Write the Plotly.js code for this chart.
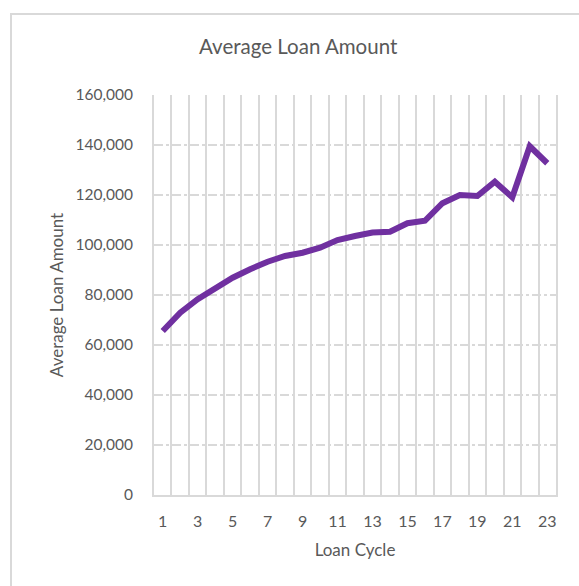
<!DOCTYPE html>
<html>
<head>
<meta charset="utf-8">
<script src="https://cdn.plot.ly/plotly-3.0.1.min.js"></script>
<style>
  html, body { margin: 0; padding: 0; background: #fff; }
  #frame { position: absolute; left: 10px; top: 13px; width: 600px; height: 600px;
           border-left: 2px solid #D9D9D9; border-top: 2px solid #D9D9D9; box-sizing: border-box; }
  #chart { position: absolute; left: 0; top: 0; width: 579px; height: 586px; }
</style>
</head>
<body>
<div id="frame"></div>
<div id="chart"></div>
<script>
const loanCycle = [1,2,3,4,5,6,7,8,9,10,11,12,13,14,15,16,17,18,19,20,21,22,23];
const avgLoanAmount = [65600,72900,78300,82700,86900,90300,93300,95600,96900,98900,102000,103600,105000,105300,108700,109700,116700,120000,119600,125300,119100,139500,132700];
const xTickVals = [1,3,5,7,9,11,13,15,17,19,21,23];
const xTickText = ['1','3','5','7','9','11','13','15','17','19','21','23'];

const font = 'Lato, "Open Sans", sans-serif';
const grey = '#595959';
const trace = {
  x: loanCycle, y: avgLoanAmount, type: 'scatter', mode: 'lines',
  line: { color: '#7030A0', width: 6, shape: 'linear' },
  hoverinfo: 'skip'
};
const layout = {
  width: 579, height: 586,
  paper_bgcolor: 'rgba(0,0,0,0)', plot_bgcolor: 'rgba(0,0,0,0)',
  margin: { l: 154, r: 23, t: 95, b: 91 },
  showlegend: false,
  font: { family: font, color: grey, size: 16 },
  title: { text: 'Average Loan Amount', font: { family: font, size: 20.5, color: grey },
           x: 0.515, xanchor: 'center', y: 0.92, yanchor: 'middle' },
  xaxis: {
    range: [0.5, 23.5], tickvals: xTickVals, ticktext: xTickText,
    showgrid: false, zeroline: false, ticks: '',
    showline: true, linecolor: '#D9D9D9', linewidth: 2,
    tickfont: { family: font, size: 16, color: grey },
    ticklabelstandoff: 11,
    minor: { tick0: 0.5, dtick: 1, showgrid: true, gridcolor: '#D9D9D9', gridwidth: 2, ticks: '' },
    title: { text: 'Loan Cycle', font: { family: font, size: 17, color: grey }, standoff: 15 }
  },
  yaxis: {
    range: [0, 160000], dtick: 20000, tick0: 0, tickformat: ',',
    showgrid: true, gridcolor: '#D9D9D9', gridwidth: 1.5, griddash: 'dashdot',
    zeroline: false, ticks: '',
    showline: true, mirror: true, linecolor: '#D9D9D9', linewidth: 2,
    tickfont: { family: font, size: 15.5, color: grey },
    ticklabelstandoff: 16,
    title: { text: 'Average Loan Amount', font: { family: font, size: 17, color: grey }, standoff: 7 }
  }
};
Plotly.newPlot('chart', [trace], layout, { staticPlot: true, displayModeBar: false });
</script>
</body>
</html>
